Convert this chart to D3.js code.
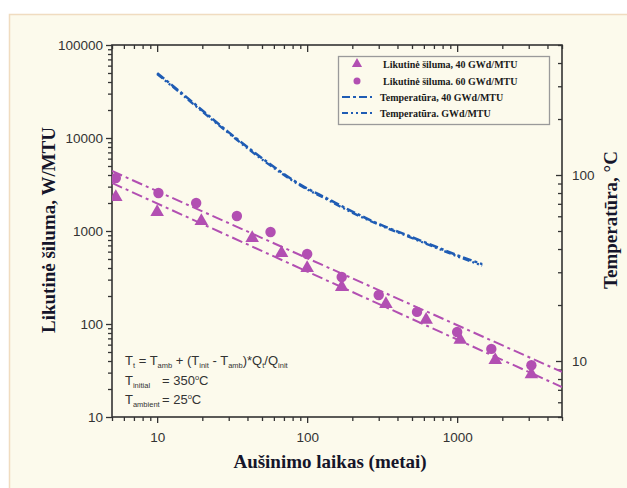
<!DOCTYPE html>
<html>
<head>
<meta charset="utf-8">
<script src="https://cdn.jsdelivr.net/npm/d3@7"></script>
<style>
  html, body { margin: 0; padding: 0; background: #ffffff; }
  svg { display: block; }
</style>
</head>
<body>
<svg id="chart" width="627" height="488"></svg>
<script>
// ---------- data ----------
const xTickValues = [10, 100, 1000];
const yLeftTickValues = [10, 100, 1000, 10000, 100000];
const yRightTickValues = [10, 100];

// residual heat, 60 GWd/MTU (circles)
const heatYears60 = [5.3, 10.2, 18.2, 34, 57, 100, 170, 300, 540, 1000, 1690, 3125];
const heat60      = [3715, 2563, 2000, 1449, 975, 566, 320, 205, 135, 82, 54, 36];
// residual heat, 40 GWd/MTU (triangles)
const heatYears40 = [5.3, 10, 19.7, 43, 67.5, 100, 170, 335, 621, 1048, 1795, 3125];
const heat40      = [2264, 1562, 1250, 820, 566, 390, 244, 160, 108, 66, 40, 28];
// fitted trend lines
const fitYears = [5, 5000];
const fit60 = [4416, 30.5];
const fit40 = [3281, 21];
// temperature curves (right axis)
const tempYears = [10, 13.8, 22.6, 29.9, 42.5, 61.5, 91.8, 135, 190, 301, 478, 758, 1031, 1469];
const temp40    = [353, 286, 205, 170, 136, 109, 88, 75, 65, 54.5, 47, 40.5, 36.7, 33.2];
const temp60    = [349, 282, 202, 168, 134, 107.5, 87, 74, 64, 54, 46.5, 40, 36.2, 32.6];

const legendLabels = [
  "Likutinė šiluma, 40 GWd/MTU",
  "Likutinė šiluma. 60 GWd/MTU",
  "Temperatūra, 40 GWd/MTU",
  "Temperatūra. GWd/MTU"
];

// ---------- setup ----------
const purple = "#b24fb2";
const blue = "#1f5cb4";
const axisColor = "#333333";
const svg = d3.select("#chart");

// panel background
svg.append("rect").attr("x", 9.5).attr("y", 14.5).attr("width", 640).attr("height", 500)
  .attr("fill", "#fcfaec").attr("stroke", "#f0dcc0").attr("stroke-width", 1.5);

const L = 112, R = 562, T = 45, B = 417;
const x = d3.scaleLog().domain([5, 5000]).range([L, R]);
const y = d3.scaleLog().domain([10, 100000]).range([B, T]);
const yR = d3.scaleLog().domain([5, 500]).range([B, T]);

function minors(scale) {
  const [a, b] = scale.domain();
  const out = [];
  for (let e = Math.floor(Math.log10(a)); e <= Math.ceil(Math.log10(b)); e++) {
    for (let m = 2; m <= 9; m++) {
      const v = m * Math.pow(10, e);
      if (v >= a * 0.999 && v <= b * 1.001) out.push(v);
    }
  }
  return out;
}
const fmt = d3.format("d");

function styleAxis(g) {
  g.select(".domain").remove();
  g.selectAll("line").attr("stroke", axisColor).attr("stroke-width", 1.3);
  g.selectAll("text").attr("fill", "#333").attr("font-family", "Liberation Sans, Arial, sans-serif").attr("font-size", "13.5px");
}

// left axis
svg.append("g").attr("transform", `translate(${L},0)`)
  .call(d3.axisLeft(y).tickValues(yLeftTickValues).tickFormat(fmt).tickSize(6).tickPadding(3)).call(styleAxis);
svg.append("g").attr("transform", `translate(${L},0)`)
  .call(d3.axisLeft(y).tickValues(minors(y)).tickFormat("").tickSize(4)).call(styleAxis);
// bottom axis
svg.append("g").attr("transform", `translate(0,${B})`)
  .call(d3.axisBottom(x).tickValues(xTickValues).tickFormat(fmt).tickSize(6).tickPadding(9)).call(styleAxis);
svg.append("g").attr("transform", `translate(0,${B})`)
  .call(d3.axisBottom(x).tickValues(minors(x)).tickFormat("").tickSize(4)).call(styleAxis);
// top axis (inward)
svg.append("g").attr("transform", `translate(0,${T})`)
  .call(d3.axisTop(x).tickValues(xTickValues).tickFormat("").tickSize(-7)).call(styleAxis);
svg.append("g").attr("transform", `translate(0,${T})`)
  .call(d3.axisTop(x).tickValues(minors(x)).tickFormat("").tickSize(-4)).call(styleAxis);
// right axis (inward ticks)
svg.append("g").attr("transform", `translate(${R},0)`)
  .call(d3.axisRight(yR).tickValues(yRightTickValues).tickFormat(fmt).tickSize(-6).tickPadding(10)).call(styleAxis);
svg.append("g").attr("transform", `translate(${R},0)`)
  .call(d3.axisRight(yR).tickValues(minors(yR)).tickFormat("").tickSize(-4)).call(styleAxis);

// frame
svg.append("rect").attr("x", L).attr("y", T).attr("width", R - L).attr("height", B - T)
  .attr("fill", "none").attr("stroke", axisColor).attr("stroke-width", 1.6);

// clip
svg.append("clipPath").attr("id", "plotclip").append("rect")
  .attr("x", L).attr("y", T).attr("width", R - L).attr("height", B - T);
const plot = svg.append("g").attr("clip-path", "url(#plotclip)");

// fitted lines
const lineHeat = d3.line().x(d => x(d[0])).y(d => y(d[1]));
[fit60, fit40].forEach(f => {
  plot.append("path").datum(fitYears.map((t, i) => [t, f[i]]))
    .attr("d", lineHeat).attr("fill", "none").attr("stroke", purple)
    .attr("stroke-width", 2).attr("stroke-dasharray", "11,4,3,4");
});

// temperature lines
const lineTemp = d3.line().curve(d3.curveMonotoneX).x(d => x(d[0])).y(d => yR(d[1]));
plot.append("path").datum(tempYears.map((t, i) => [t, temp40[i]]))
  .attr("d", lineTemp).attr("fill", "none").attr("stroke", blue)
  .attr("stroke-width", 2.5).attr("stroke-dasharray", "9,3,3,3");
plot.append("path").datum(tempYears.map((t, i) => [t, temp60[i]]))
  .attr("d", lineTemp).attr("fill", "none").attr("stroke", blue)
  .attr("stroke-width", 2.3).attr("stroke-dasharray", "7,3,2,3,2,3");

// markers
const tri = d3.symbol().type(d3.symbolTriangle).size(80);
plot.selectAll(".tri").data(heatYears40.map((t, i) => [t, heat40[i]])).join("path")
  .attr("transform", d => `translate(${x(d[0])},${y(d[1]) - 1})`)
  .attr("d", tri).attr("fill", purple);
plot.selectAll(".cir").data(heatYears60.map((t, i) => [t, heat60[i]])).join("circle")
  .attr("cx", d => x(d[0])).attr("cy", d => y(d[1])).attr("r", 5.2).attr("fill", purple);

// legend
const lg = svg.append("g");
lg.append("rect").attr("x", 338.5).attr("y", 56.5).attr("width", 211).attr("height", 68)
  .attr("fill", "#fcfaec").attr("stroke", "#9a9a9a").attr("stroke-width", 1.3);
const rowY = [68, 85, 101, 117];
lg.append("path").attr("d", d3.symbol().type(d3.symbolTriangle).size(45)())
  .attr("transform", `translate(357,${rowY[0] - 4})`).attr("fill", purple);
lg.append("circle").attr("cx", 357).attr("cy", rowY[1] - 4).attr("r", 3.5).attr("fill", purple);
lg.append("line").attr("x1", 342).attr("x2", 372).attr("y1", rowY[2] - 4).attr("y2", rowY[2] - 4)
  .attr("stroke", blue).attr("stroke-width", 2.2).attr("stroke-dasharray", "8,3,3,3");
lg.append("line").attr("x1", 342).attr("x2", 372).attr("y1", rowY[3] - 4).attr("y2", rowY[3] - 4)
  .attr("stroke", blue).attr("stroke-width", 2.2).attr("stroke-dasharray", "6,3,2,3,2,3");
legendLabels.forEach((t, i) => {
  lg.append("text").attr("x", i < 2 ? 383 : 380).attr("y", rowY[i]).text(t)
    .attr("font-family", "Liberation Serif, Times New Roman, serif").attr("font-weight", "bold")
    .attr("font-size", "10px").attr("fill", "#1a1a1a");
});

// axis titles
const titleFont = "Liberation Serif, Times New Roman, serif";
svg.append("text").attr("transform", "translate(55,230) rotate(-90)").attr("text-anchor", "middle")
  .attr("font-family", titleFont).attr("font-weight", "bold").attr("font-size", "19px").attr("fill", "#15152a")
  .text("Likutinė šiluma, W/MTU");
svg.append("text").attr("transform", "translate(617,220) rotate(-90)").attr("text-anchor", "middle")
  .attr("font-family", titleFont).attr("font-weight", "bold").attr("font-size", "19px").attr("fill", "#15152a")
  .text("Temperatūra, °C");
svg.append("text").attr("x", 330).attr("y", 468).attr("text-anchor", "middle")
  .attr("font-family", titleFont).attr("font-weight", "bold").attr("font-size", "19px").attr("fill", "#15152a")
  .text("Aušinimo laikas (metai)");

// annotation
const ann = svg.append("g").attr("font-family", "Liberation Sans, Arial, sans-serif").attr("fill", "#333").attr("font-size", "13px");
function addRich(xPos, yPos, parts) {
  const t = ann.append("text").attr("x", xPos).attr("y", yPos);
  parts.forEach(p => {
    const s = t.append("tspan").text(p[0]);
    if (p[1] === "sub") s.attr("font-size", "7.5px").attr("dy", 3);
    else if (p[1] === "back") s.attr("dy", -3);
  });
  return t;
}
addRich(125, 365, [["T"], ["t", "sub"], [" = T", "back"], ["amb", "sub"], [" + (T", "back"], ["init", "sub"],
  [" - T", "back"], ["amb", "sub"], [")*Q", "back"], ["t", "sub"], ["/Q", "back"], ["init", "sub"]]);
addRich(125, 385, [["T"], ["initial", "sub"]]);
const a2 = ann.append("text").attr("x", 162).attr("y", 385).text("= 350");
a2.append("tspan").attr("font-size", "7.5px").attr("dy", -5).text("o");
a2.append("tspan").attr("dy", 5).text("C");
addRich(125, 404, [["T"], ["ambient", "sub"]]);
const a3 = ann.append("text").attr("x", 162).attr("y", 404).text("= 25");
a3.append("tspan").attr("font-size", "7.5px").attr("dy", -5).text("o");
a3.append("tspan").attr("dy", 5).text("C");
</script>
</body>
</html>
